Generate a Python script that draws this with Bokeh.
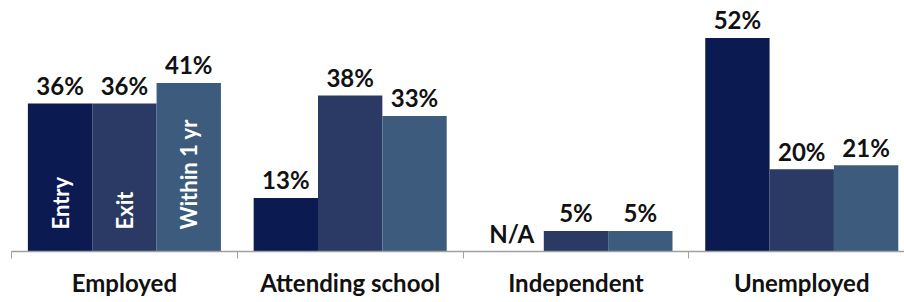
from bokeh.plotting import figure
from bokeh.models import Range1d, FixedTicker, ColumnDataSource
from bokeh.core.properties import value
from bokeh.embed import file_html
from bokeh.resources import INLINE

categories = ["Employed", "Attending school", "Independent", "Unemployed"]
series = ["Entry", "Exit", "Within 1 yr"]
entry = [36, 13, 0, 52]
exit_ = [36, 38, 5, 20]
within = [41, 33, 5, 21]
entry_labels = ["36%", "13%", "N/A", "52%"]
exit_labels = ["36%", "38%", "5%", "20%"]
within_labels = ["41%", "33%", "5%", "21%"]
colors = ["#0c1a52", "#2a3a64", "#3d5b7c"]

FONT = "Lato"
W, H = 904, 302
BORDER_L, BORDER_B = 11, 51
Y_MAX = 61.1
bar_w = 0.285
offsets = [-bar_w, 0.0, bar_w]

frame_h = H - BORDER_B
px_per_unit = frame_h / Y_MAX
label_pad = 3.6 / px_per_unit
inner_pad = 22 / px_per_unit

p = figure(width=W, height=H, output_backend="svg", toolbar_location=None,
           x_range=Range1d(0, 3.955), y_range=Range1d(0, Y_MAX),
           min_border_left=BORDER_L, min_border_right=0, min_border_top=0,
           min_border_bottom=BORDER_B)
p.outline_line_color = None
p.grid.visible = False
p.yaxis.visible = False
p.background_fill_color = "white"

for vals, labs, off, col in zip([entry, exit_, within],
                                [entry_labels, exit_labels, within_labels],
                                offsets, colors):
    xs = [i + 0.5 + off for i in range(len(categories))]
    src = ColumnDataSource(dict(x=xs, top=vals, ly=[v + label_pad for v in vals], lab=labs))
    p.vbar(x="x", top="top", width=bar_w, bottom=0, source=src,
           fill_color=col, line_color=None)
    p.text(x="x", y="ly", text="lab", source=src, text_align="center",
           text_baseline="bottom", text_font=value(FONT),
           text_font_style="bold", text_font_size="24px", text_color="#111111")

# series names inside first group's bars
xs_in = [0.5 + off for off in offsets]
p.text(x=xs_in, y=[inner_pad] * 3, text=series, angle=1.5708, text_align="left",
       text_baseline="middle", text_font=value(FONT),
       text_font_style="bold", text_font_size="22px", text_color="white")

ax = p.xaxis[0]
ax.ticker = FixedTicker(ticks=[i + 0.5 for i in range(len(categories))],
                        minor_ticks=list(range(len(categories) + 1)))
ax.major_label_overrides = {i + 0.5: c for i, c in enumerate(categories)}
ax.major_tick_line_color = None
ax.major_tick_out = 0
ax.major_tick_in = 0
ax.minor_tick_line_color = "#a0a0a0"
ax.minor_tick_out = 7
ax.minor_tick_in = 0
ax.axis_line_color = "#a0a0a0"
ax.axis_line_width = 1.5
ax.major_label_text_font = FONT
ax.major_label_text_font_style = "bold"
ax.major_label_text_font_size = "24px"
ax.major_label_text_color = "#111111"
ax.major_label_standoff = 9

open("out.html", "w").write(file_html(p, INLINE))
